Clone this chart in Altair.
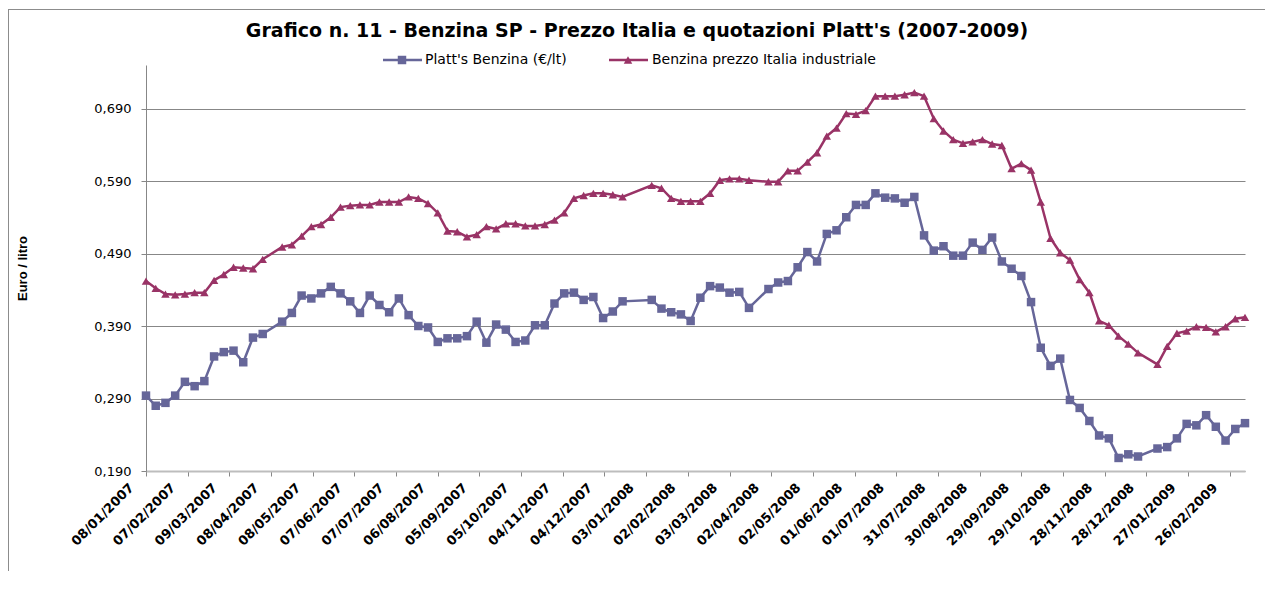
import json
import altair as alt
import pandas as pd

# ---- data (weekly quotations, weeks counted from 08/01/2007) ----
weeks = ([w for w in range(0, 13)] + [w for w in range(14, 50)] +
         [w for w in range(52, 63)] + [w for w in range(64, 103)] +
         [w for w in range(104, 114)])

platts = [0.294, 0.280, 0.284, 0.294, 0.313, 0.307, 0.314, 0.348, 0.354, 0.356, 0.340, 0.374, 0.379,
          0.396, 0.408, 0.432, 0.428, 0.435, 0.444, 0.435, 0.424, 0.408, 0.432, 0.419, 0.409, 0.428, 0.405, 0.390,
          0.388, 0.368, 0.373, 0.373, 0.376, 0.396, 0.367, 0.392, 0.385, 0.368, 0.370, 0.391, 0.391, 0.421,
          0.435, 0.436, 0.426, 0.430, 0.401, 0.410, 0.424,
          0.426, 0.414, 0.409, 0.406, 0.397, 0.429, 0.445, 0.443, 0.436, 0.437, 0.415,
          0.441, 0.450, 0.452, 0.471, 0.492, 0.479, 0.517, 0.522, 0.540, 0.557, 0.557, 0.573, 0.567, 0.566,
          0.560, 0.568, 0.515, 0.494, 0.500, 0.487, 0.487, 0.505, 0.495, 0.512, 0.479, 0.469, 0.459, 0.423,
          0.360, 0.335, 0.345, 0.288, 0.277, 0.259, 0.239, 0.235, 0.208, 0.213, 0.210,
          0.221, 0.223, 0.235, 0.255, 0.253, 0.267, 0.251, 0.232, 0.248, 0.256]

italia = [0.452, 0.442, 0.434, 0.433, 0.434, 0.436, 0.436, 0.453, 0.461, 0.471, 0.470, 0.469, 0.482,
          0.499, 0.502, 0.514, 0.527, 0.530, 0.540, 0.554, 0.556, 0.557, 0.557, 0.561, 0.561, 0.561, 0.568, 0.566,
          0.559, 0.546, 0.521, 0.520, 0.513, 0.516, 0.527, 0.524, 0.531, 0.531, 0.528, 0.528, 0.530, 0.536,
          0.546, 0.566, 0.570, 0.573, 0.573, 0.571, 0.568,
          0.584, 0.580, 0.566, 0.562, 0.562, 0.562, 0.573, 0.591, 0.593, 0.593, 0.591,
          0.589, 0.589, 0.604, 0.604, 0.616, 0.629, 0.652, 0.663, 0.683, 0.682, 0.687, 0.707, 0.707, 0.707,
          0.709, 0.712, 0.707, 0.676, 0.659, 0.647, 0.642, 0.644, 0.647, 0.641, 0.639, 0.607, 0.614, 0.605,
          0.561, 0.511, 0.491, 0.481, 0.454, 0.436, 0.397, 0.391, 0.376, 0.365, 0.353,
          0.337, 0.362, 0.380, 0.383, 0.389, 0.388, 0.382, 0.389, 0.400, 0.402]

tick_labels = ["08/01/2007", "07/02/2007", "09/03/2007", "08/04/2007", "08/05/2007", "07/06/2007",
               "07/07/2007", "06/08/2007", "05/09/2007", "05/10/2007", "04/11/2007", "04/12/2007",
               "03/01/2008", "02/02/2008", "03/03/2008", "02/04/2008", "02/05/2008", "01/06/2008",
               "01/07/2008", "31/07/2008", "30/08/2008", "29/09/2008", "29/10/2008", "28/11/2008",
               "28/12/2008", "27/01/2009", "26/02/2009"]
tick_days = [30 * i for i in range(len(tick_labels))]
y_ticks = [0.19, 0.29, 0.39, 0.49, 0.59, 0.69]

series_names = ["Platt's Benzina (€/lt)", "Benzina prezzo Italia industriale"]
title_text = "Grafico n. 11 - Benzina SP - Prezzo Italia e quotazioni Platt's (2007-2009)"

BLUE = "#666699"
RED = "#993366"
GRID = "#878787"

days = [7 * w for w in weeks]
df_p = pd.DataFrame({"day": days, "value": platts})
df_i = pd.DataFrame({"day": days, "value": italia})

xscale = alt.Scale(domain=[0, 791], nice=False, zero=False)
yscale = alt.Scale(domain=[0.19, 0.75], nice=False, zero=False)

xaxis = alt.Axis(values=tick_days, title=None, grid=False,
                 labelExpr=f"{json.dumps(tick_labels)}[round(datum.value/30)]",
                 labelAngle=-45, labelAlign="right", labelBaseline="top",
                 labelFont="DejaVu Sans", labelFontWeight="bold", labelFontSize=13,
                 labelColor="#000000", labelOffset=-19, labelPadding=5,
                 tickSize=5, tickColor=GRID, domainColor="#BDBDBD", domainWidth=2,
                 labelOverlap=False, labelBound=False, labelFlush=False)
yaxis = alt.Axis(values=y_ticks, title="Euro / litro",
                 labelExpr="replace(format(datum.value, '.3f'), '.', ',')",
                 labelFont="DejaVu Sans", labelFontSize=13, labelColor="#000000",
                 labelPadding=10, tickSize=5, tickColor=GRID,
                 grid=True, gridColor=GRID, gridWidth=1,
                 domainColor=GRID, domainWidth=1,
                 titleFont="Liberation Sans", titleFontWeight="bold", titleFontSize=13,
                 titleColor="#000000", titleAngle=270, titleAlign="center",
                 titleBaseline="middle", titleX=-124, titleY=203,
                 labelOverlap=False)

X = alt.X("day:Q", scale=xscale, axis=xaxis)
Y = alt.Y("value:Q", scale=yscale, axis=yaxis)

line_p = alt.Chart(df_p).mark_line(color=BLUE, strokeWidth=2.5).encode(x=X, y=Y)
pts_p = alt.Chart(df_p).mark_point(shape="square", filled=True, size=72, color=BLUE,
                                    opacity=1).encode(x=X, y=Y)
line_i = alt.Chart(df_i).mark_line(color=RED, strokeWidth=2.5).encode(x=X, y=Y)
pts_i = alt.Chart(df_i).mark_point(shape="triangle-up", filled=True, size=72, color=RED,
                                    opacity=1).encode(x=X, y=Y)

one = pd.DataFrame({"k": [0]})
leg_df = pd.DataFrame({"name": series_names})

# title
title = alt.Chart(pd.DataFrame({"t": [title_text]})).mark_text(
    font="DejaVu Sans", fontWeight="bold", fontSize=19, color="#000000",
    align="center", baseline="middle").encode(
    text="t:N", x=alt.value(491), y=alt.value(-34))

# legend (manual)
LY = -5
leg_line_p = alt.Chart(one).mark_rule(color=BLUE, strokeWidth=2.5).encode(
    x=alt.value(237), x2=alt.value(276), y=alt.value(LY))
leg_pt_p = alt.Chart(one).mark_point(shape="square", filled=True, size=72, color=BLUE,
                                      opacity=1).encode(x=alt.value(256), y=alt.value(LY))
leg_txt_p = alt.Chart(leg_df.iloc[[0]]).mark_text(
    font="DejaVu Sans", fontSize=14, color="#000000", align="left", baseline="middle").encode(
    text="name:N", x=alt.value(279), y=alt.value(LY))
leg_line_i = alt.Chart(one).mark_rule(color=RED, strokeWidth=2.5).encode(
    x=alt.value(463), x2=alt.value(502), y=alt.value(LY))
leg_pt_i = alt.Chart(one).mark_point(shape="triangle-up", filled=True, size=72, color=RED,
                                      opacity=1).encode(x=alt.value(482), y=alt.value(LY))
leg_txt_i = alt.Chart(leg_df.iloc[[1]]).mark_text(
    font="DejaVu Sans", fontSize=14, color="#000000", align="left", baseline="middle").encode(
    text="name:N", x=alt.value(506), y=alt.value(LY))

# outer frame (top and left edges)
frame_top = alt.Chart(one).mark_rect(color="#8C8C8C").encode(
    x=alt.value(-138), x2=alt.value(1119), y=alt.value(-56), y2=alt.value(-55))
frame_left = alt.Chart(one).mark_rect(color="#8C8C8C").encode(
    x=alt.value(-138), x2=alt.value(-137), y=alt.value(-56), y2=alt.value(506))

chart = alt.layer(
    line_p, pts_p, line_i, pts_i, title,
    leg_line_p, leg_pt_p, leg_txt_p, leg_line_i, leg_pt_i, leg_txt_i,
    frame_top, frame_left,
).properties(
    width=1099, height=406,
    padding={"left": 138, "top": 57, "right": 20, "bottom": 100},
    autosize=alt.AutoSizeParams(type="none"),
    background="white",
).configure_view(stroke=None)

chart.save("out.html", embed_options={"renderer": "svg", "actions": False})
